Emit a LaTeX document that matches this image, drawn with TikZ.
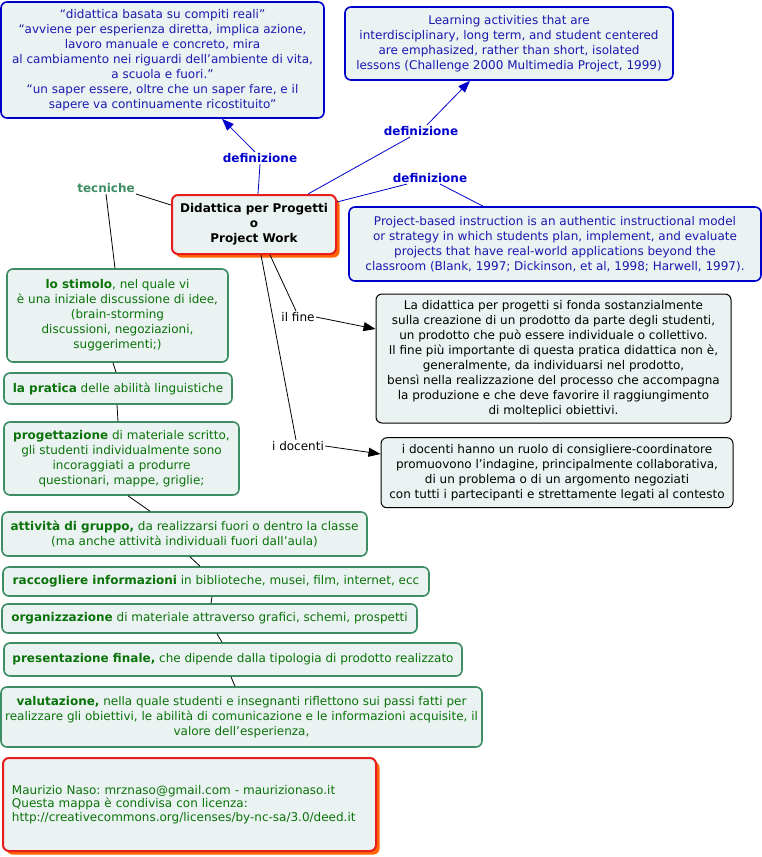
\documentclass[tikz,border=0pt]{standalone}
\usepackage{fontspec}
\setmainfont{DejaVu Sans}
\usetikzlibrary{arrows.meta,shadows}
\definecolor{sfondo}{RGB}{235,242,242}
\definecolor{blu}{RGB}{0,0,205}
\definecolor{blutesto}{RGB}{25,25,175}
\definecolor{verde}{RGB}{60,140,100}
\definecolor{verdetesto}{RGB}{10,115,10}
\definecolor{rosso}{RGB}{232,30,30}
\definecolor{ombra}{RGB}{255,100,0}
\newcommand{\testo}{\fontsize{12}{15}\selectfont}
\frenchspacing

\begin{document}
\begin{tikzpicture}[x=1pt,y=-1pt,line width=0.8pt,
	every node/.style={font=\testo},
	casella/.style={draw,rounded corners=6pt,fill=sfondo,align=center,inner sep=0pt,line width=1.6pt},
	defbox/.style={casella,draw=blu,text=blutesto},
	tecbox/.style={casella,draw=verde,text=verdetesto},
	notabox/.style={casella,draw=black,line width=1pt,text=black},
	radicebox/.style={casella,draw=rosso,line width=2pt,drop shadow={shadow xshift=3.5pt,shadow yshift=-3.5pt,fill=ombra,opacity=1}},
	linkword/.style={inner sep=1pt},
	freccia/.style={-{Triangle[length=12pt,width=9pt]}}]
					\useasboundingbox (0,0) rectangle (762,857);
					%RADICE
					\node[radicebox,minimum width=164pt,minimum height=59pt,font=\testo\bfseries,
						text=black] (radice) at (254,224.5) {Didattica per Progetti\\o\\Project Work};
					%DEFINIZIONI
					\node[defbox,minimum width=323pt,minimum height=116pt] (defA) at (162.5,60)
						{“didattica basata su compiti reali”\\
						“avviene per esperienza diretta, implica azione,\\
						lavoro manuale e concreto, mira\\
						al cambiamento nei riguardi dell’ambiente di vita,\\
						a scuola e fuori.”\\
						“un saper essere, oltre che un saper fare, e il\\
						sapere va continuamente ricostituito”};
					\node[defbox,minimum width=328pt,minimum height=73pt] (defB) at (509,43.5)
						{Learning activities that are\\
						interdisciplinary, long term, and student centered\\
						are emphasized, rather than short, isolated\\
						lessons (Challenge 2000 Multimedia Project, 1999)};
					\node[defbox,minimum width=412pt,minimum height=74pt] (defC) at (555,244)
						{Project-based instruction is an authentic instructional model\\
						or strategy in which students plan, implement, and evaluate\\
						projects that have real-world applications beyond the\\
						classroom (Blank, 1997; Dickinson, et al, 1998; Harwell, 1997).};
					\node[linkword,text=blu,font=\testo\bfseries] (lab1) at (260,158) {definizione};
					\node[linkword,text=blu,font=\testo\bfseries] (lab2) at (421,131) {definizione};
					\node[linkword,text=blu,font=\testo\bfseries] (lab3) at (430,178) {definizione};
					\draw[blu] ([xshift=4pt]radice.north) -- (lab1.south);
					\draw[blu,freccia] ([xshift=-5pt]lab1.north) -- ([xshift=59.5pt]defA.south);
					\draw[blu] ([xshift=54pt]radice.north) -- ([xshift=-11pt]lab2.south);
					\draw[blu,freccia] ([xshift=6pt]lab2.north) -- ([xshift=-39pt]defB.south);
					\draw[blu] ([yshift=22.5pt]radice.east) -- ([xshift=-23pt]lab3.south);
					\draw[blu] ([xshift=10pt]lab3.south) -- ([xshift=-72pt]defC.north);
					%IL FINE E I DOCENTI
					\node[notabox,minimum width=355pt,minimum height=129pt] (scopo) at (553.5,358.5)
						{La didattica per progetti si fonda sostanzialmente\\
						sulla creazione di un prodotto da parte degli studenti,\\
						un prodotto che può essere individuale o collettivo.\\
						Il fine più importante di questa pratica didattica non è,\\
						generalmente, da individuarsi nel prodotto,\\
						bensì nella realizzazione del processo che accompagna\\
						la produzione e che deve favorire il raggiungimento\\
						di molteplici obiettivi.};
					\node[notabox,minimum width=352pt,minimum height=70pt] (ruolo) at (557,472.7)
						{i docenti hanno un ruolo di consigliere-coordinatore\\
						promuovono l’indagine, principalmente collaborativa,\\
						di un problema o di un argomento negoziati\\
						con tutti i partecipanti e strettamente legati al contesto};
					\node[linkword] (fine) at (298,317) {il fine};
					\node[linkword] (docenti) at (298,446) {i docenti};
					\draw ([xshift=16pt]radice.south) -- ([xshift=-2pt]fine.north);
					\draw[freccia] (fine.east) -- ([yshift=29.5pt]scopo.west);
					\draw ([xshift=7pt]radice.south) -- ([xshift=-2pt]docenti.north);
					\draw[freccia] (docenti.east) -- ([yshift=18.7pt]ruolo.west);
					%TECNICHE
					\node[linkword,text=verde,font=\testo\bfseries] (tecniche) at (106,188) {tecniche};
					\node[tecbox,minimum width=221pt,minimum height=93pt] (stimolo) at (117.5,315.5)
						{\textbf{lo stimolo}, nel quale vi\\
						è una iniziale discussione di idee,\\
						(brain-storming\\
						discussioni, negoziazioni,\\
						suggerimenti;)};
					\node[tecbox,minimum width=228pt,minimum height=31pt] (pratica) at (118,388.5)
						{\textbf{la pratica} delle abilità linguistiche};
					\node[tecbox,minimum width=235pt,minimum height=73pt] (progetto) at (121.5,458.5)
						{\textbf{progettazione} di materiale scritto,\\
						gli studenti individualmente sono\\
						incoraggiati a produrre\\
						questionari, mappe, griglie;};
					\node[tecbox,minimum width=365pt,minimum height=44pt] (gruppo) at (184.5,534)
						{\textbf{attività di gruppo,} da realizzarsi fuori o dentro la classe\\
						(ma anche attività individuali fuori dall’aula)};
					\node[tecbox,minimum width=426pt,minimum height=29pt] (ricerca) at (216,581.5)
						{\textbf{raccogliere informazioni} in biblioteche, musei, film, internet, ecc};
					\node[tecbox,minimum width=415pt,minimum height=29pt] (ordine) at (209.5,618.5)
						{\textbf{organizzazione} di materiale attraverso grafici, schemi, prospetti};
					\node[tecbox,minimum width=458pt,minimum height=33pt] (finale) at (233,659.5)
						{\textbf{presentazione finale,} che dipende dalla tipologia di prodotto realizzato};
					\node[tecbox,minimum width=481pt,minimum height=60pt] (verifica) at (241.5,717)
						{\textbf{valutazione,} nella quale studenti e insegnanti riflettono sui passi fatti per\\
						realizzare gli obiettivi, le abilità di comunicazione e le informazioni acquisite, il\\
						valore dell’esperienza,};
					\draw ([yshift=19.5pt]radice.west) -- (tecniche.south east);
					\draw (tecniche.south) -- ([xshift=-2.5pt]stimolo.north);
					\draw ([xshift=-4.5pt]stimolo.south) -- ([xshift=-2pt]pratica.north);
					\draw ([xshift=-1pt]pratica.south) -- ([xshift=-3.5pt]progetto.north);
					\draw ([xshift=6.5pt]progetto.south) -- ([xshift=-34.5pt]gruppo.north);
					\draw ([xshift=5.5pt]gruppo.south) -- ([xshift=-16pt]ricerca.north);
					\draw ([xshift=-4pt]ricerca.south) -- ([xshift=1.5pt]ordine.north);
					\draw ([xshift=7.5pt]ordine.south) -- ([xshift=-11pt]finale.north);
					\draw ([xshift=-2pt]finale.south) -- ([xshift=-6.5pt]verifica.north);
					%FIRMA
					\node[radicebox,minimum width=373pt,minimum height=93pt,text width=355pt,align=left,
						text=verdetesto,font=\fontsize{12}{13.5}\selectfont] (firma) at (189.5,804.5)
						{Maurizio Naso: mrznaso@gmail.com - maurizionaso.it\\
						Questa mappa è condivisa con licenza:\\
						http://creativecommons.org/licenses/by-nc-sa/3.0/deed.it};
\end{tikzpicture}
\end{document}
